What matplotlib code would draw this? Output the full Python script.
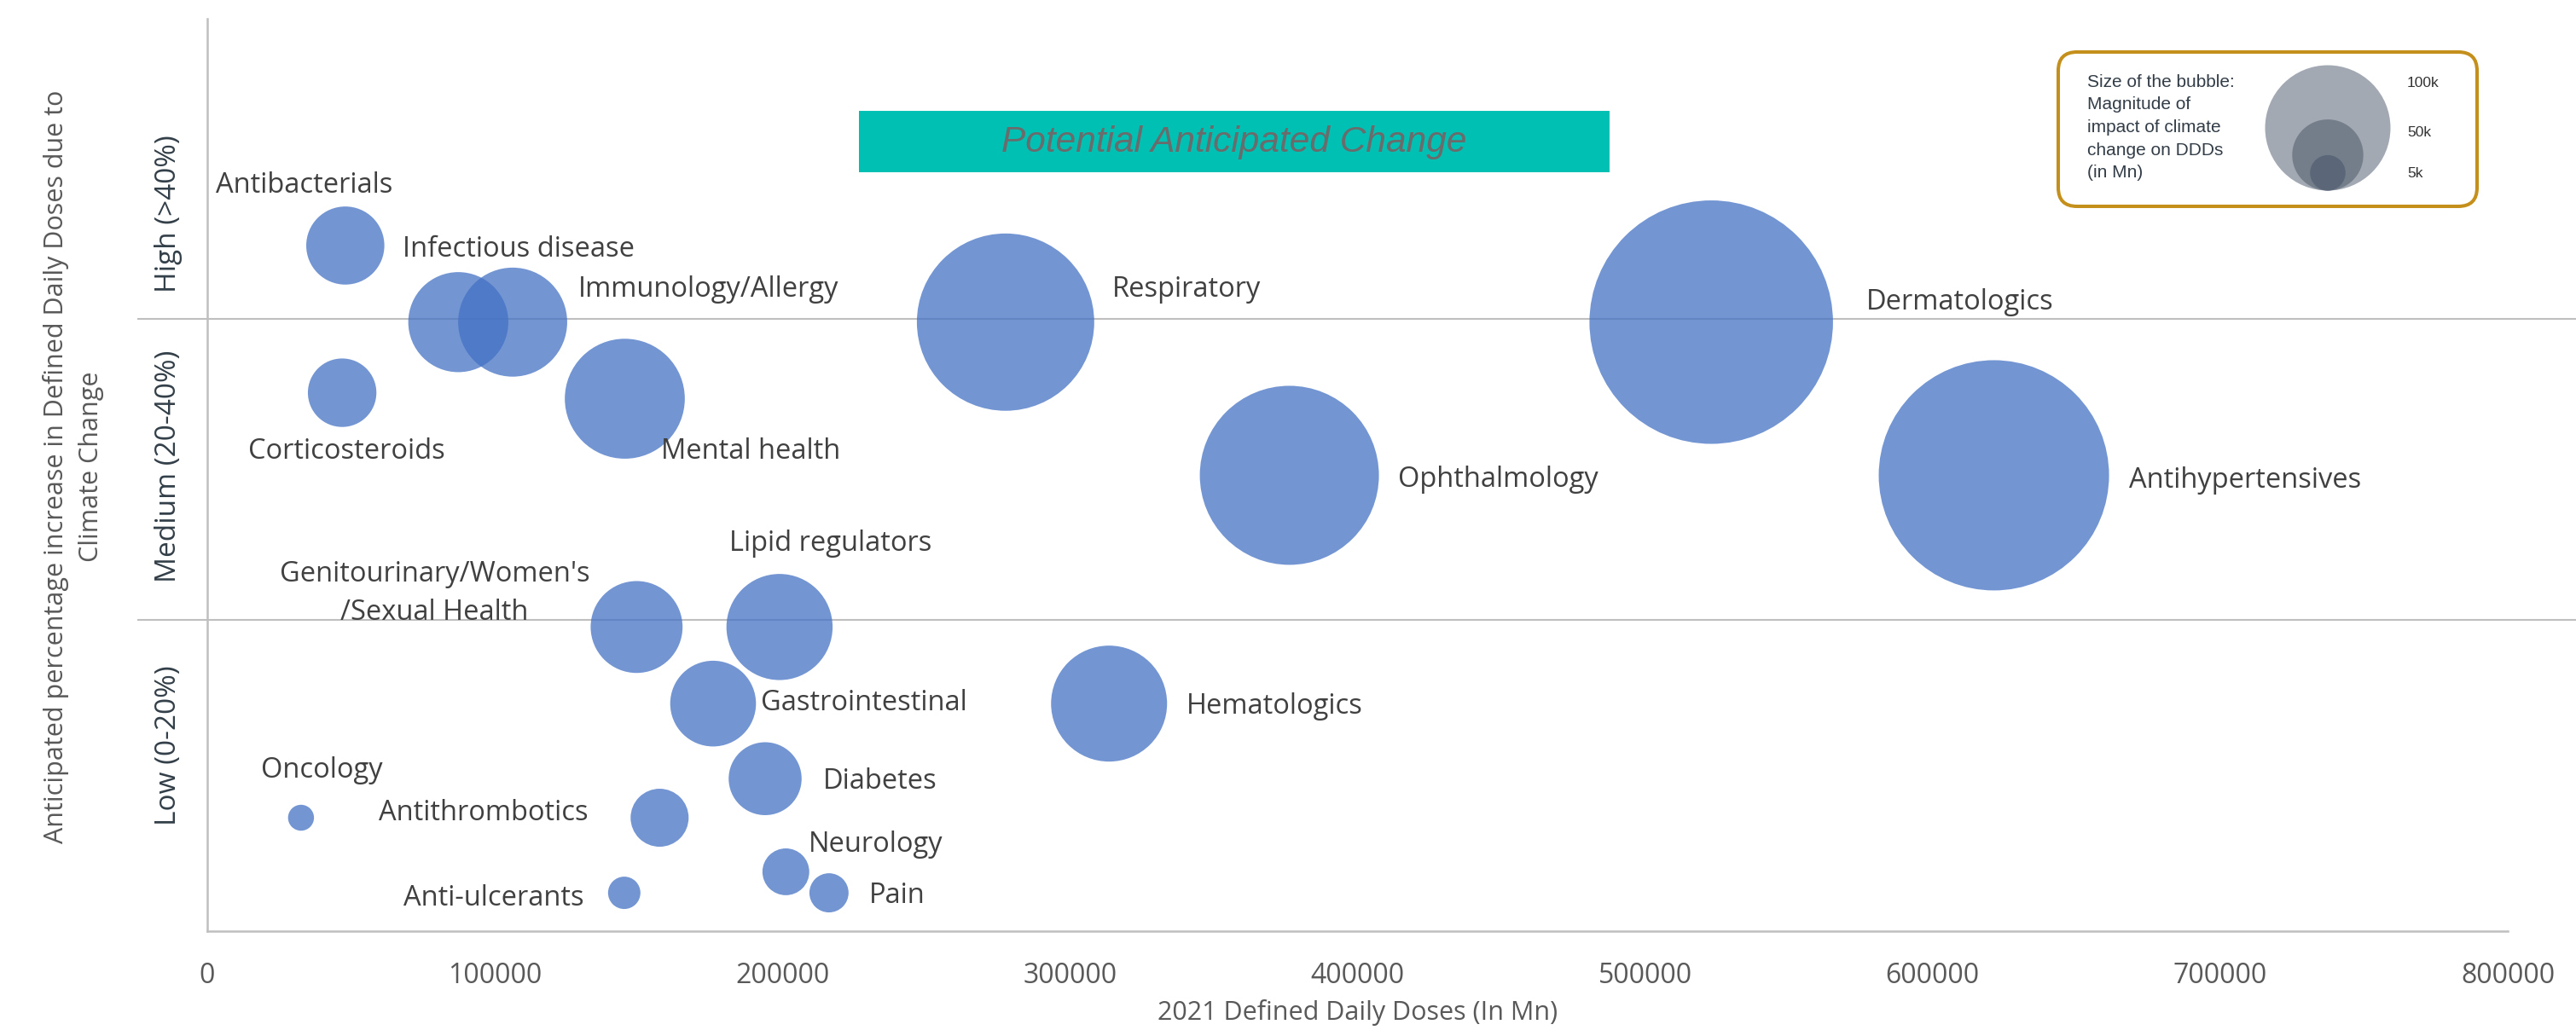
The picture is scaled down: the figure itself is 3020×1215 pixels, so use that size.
import numpy as np
import matplotlib.pyplot as plt
from matplotlib.patches import FancyBboxPatch, Circle, Rectangle
from matplotlib.transforms import blended_transform_factory

# therapy areas, 2021 DDDs (Mn), anticipated % increase, impact magnitude (Mn DDDs)
areas = ["Antibacterials", "Infectious disease", "Immunology/Allergy", "Corticosteroids",
         "Mental health", "Respiratory", "Ophthalmology", "Dermatologics", "Antihypertensives",
         "Genitourinary/Women's\n/Sexual Health", "Lipid regulators", "Gastrointestinal",
         "Hematologics", "Diabetes", "Oncology", "Antithrombotics", "Neurology", "Pain",
         "Anti-ulcerants"]
ddd_2021 = [48000, 87300, 106200, 46900, 145200, 277600, 376300, 523000, 621300,
            149300, 199000, 175900, 313600, 194000, 32600, 157300, 201200, 216200, 145000]
pct_increase = [44.9, 39.8, 39.8, 35.1, 34.7, 39.8, 29.6, 39.8, 29.6,
                19.5, 19.5, 14.4, 14.4, 9.4, 6.8, 6.8, 3.2, 1.8, 1.8]
impact = [39000, 64000, 76000, 30000, 92000, 201000, 205000, 379000, 339000,
          54000, 72000, 47000, 86000, 34000, 4300, 21500, 14000, 9800, 6700]

bands = ["High (>40%)", "Medium (20-40%)", "Low (0-20%)"]
band_label_y = [47.0, 30.2, 11.6]
band_edges = [20, 40]
x_ticks = np.arange(0, 800001, 100000)

legend_sizes = ["100k", "50k", "5k"]

# label placement: offset from bubble centre in pixels (dx, dy) to the
# baseline of the last line, plus horizontal alignment
label_pos = {
    "Antibacterials": (-152, 62, "left"),
    "Infectious disease": (-65, 77, "left"),
    "Immunology/Allergy": (77, 30, "left"),
    "Corticosteroids": (-110, -77, "left"),
    "Mental health": (42, -70, "left"),
    "Respiratory": (125, 30, "left"),
    "Ophthalmology": (127, -14, "left"),
    "Dermatologics": (182, 15, "left"),
    "Antihypertensives": (158, -15, "left"),
    "Genitourinary/Women's\n/Sexual Health": (-237, 8, "center"),
    "Lipid regulators": (-59, 89, "left"),
    "Gastrointestinal": (56, -8, "left"),
    "Hematologics": (91, -12, "left"),
    "Diabetes": (68, -12, "left"),
    "Oncology": (-47, 47, "left"),
    "Antithrombotics": (-329, -3, "left"),
    "Neurology": (27, 23, "left"),
    "Pain": (47, -12, "left"),
    "Anti-ulcerants": (-259, -15, "left"),
}

W, H, DPI = 3020, 1215, 100
BUBBLE = "#4472C4"
GRID = "#BFBFBF"
TEXT = "#404040"
AXIS_TEXT = "#595959"

fig = plt.figure(figsize=(W / DPI, H / DPI), dpi=DPI)
ax = fig.add_axes([243 / W, 1 - 1092 / H, (2940 - 243) / W, (1092 - 22) / H])

# bubble area proportional to impact; 100k Mn -> ~73 px radius
px2_per_mn = 1 / 18.6
radius_px = np.sqrt(np.array(impact) * px2_per_mn)
sizes = (2 * radius_px * 72 / DPI) ** 2
ax.scatter(ddd_2021, pct_increase, s=sizes, color=BUBBLE, alpha=0.75,
           edgecolors="none", zorder=3)

for name, x, y in zip(areas, ddd_2021, pct_increase):
    dx, dy, ha = label_pos[name]
    ax.annotate(name, (x, y), xytext=(dx, dy), textcoords="offset pixels",
                ha=ha, va="baseline", fontsize=23.5, family="Open Sans",
                color=TEXT, linespacing=1.5, multialignment="center", zorder=4)

ax.set_xlim(0, 800000)
ax.set_ylim(-0.75, 60)
ax.set_xticks(x_ticks)
ax.set_xticklabels([str(v) for v in x_ticks])
ax.set_yticks([])
ax.tick_params(axis="x", length=0, pad=26, labelsize=23, labelcolor=AXIS_TEXT)
for lbl in ax.get_xticklabels():
    lbl.set_family("Open Sans")

for side in ["top", "right"]:
    ax.spines[side].set_visible(False)
for side in ["left", "bottom"]:
    ax.spines[side].set_color(GRID)
    ax.spines[side].set_linewidth(1.8)

# band dividers run past the plot on both sides
for yb in band_edges:
    ax.axhline(yb, xmin=-0.03, xmax=1.03, color=GRID, lw=1.5, clip_on=False, zorder=1)

band_tr = blended_transform_factory(ax.transAxes, ax.transData)
for txt, yb in zip(bands, band_label_y):
    ax.text(-0.017, yb, txt, transform=band_tr, rotation=90, ha="center", va="center",
            fontsize=24, family="Open Sans", color="#333F48")

ax.set_xlabel("2021 Defined Daily Doses (In Mn)", fontsize=22, family="Open Sans",
              color=AXIS_TEXT)
ax.xaxis.set_label_coords(0.5, -0.075)

fig.text(86 / W, 1 - 547 / H,
         "Anticipated percentage increase in Defined Daily Doses due to\nClimate Change",
         rotation=90, ha="center", va="center", multialignment="center",
         fontsize=22, family="Open Sans", color=AXIS_TEXT, linespacing=1.45)

# overlay in pixel units for the banner and the bubble-size key
over = fig.add_axes([0, 0, 1, 1], zorder=5)
over.set_xlim(0, W)
over.set_ylim(H, 0)
over.axis("off")
over.patch.set_alpha(0)

over.add_patch(Rectangle((1007, 130), 880, 72, color="#00BFB3", lw=0))
over.text(1447, 167, "Potential Anticipated Change", ha="center", va="center",
          fontsize=30.5, style="italic", family="Liberation Sans", color="#6B6B6B")

over.add_patch(FancyBboxPatch((2413, 61), 491, 181,
                              boxstyle="round,pad=0,rounding_size=22",
                              fc="white", ec="#C48F1A", lw=2.9))
over.text(2447, 87, "Size of the bubble:\nMagnitude of\nimpact of climate\nchange on DDDs\n(in Mn)",
          ha="left", va="top", fontsize=15, family="Liberation Sans",
          color="#333D47", linespacing=1.5)

key_r = [73.5, 41.7, 20.8]
key_colors = ["#A3A9B3", "#747E8B", "#5B6778"]
key_text_y = [98, 156, 203]
for r, c, ty, lab in zip(key_r, key_colors, key_text_y, legend_sizes):
    over.add_patch(Circle((2729, 223.5 - r), r, fc=c, ec="none"))
    over.text(2822, ty, lab, ha="left", va="center", fontsize=12.5,
              family="Liberation Sans", color="#333333")

fig.savefig("out.png", dpi=DPI)
